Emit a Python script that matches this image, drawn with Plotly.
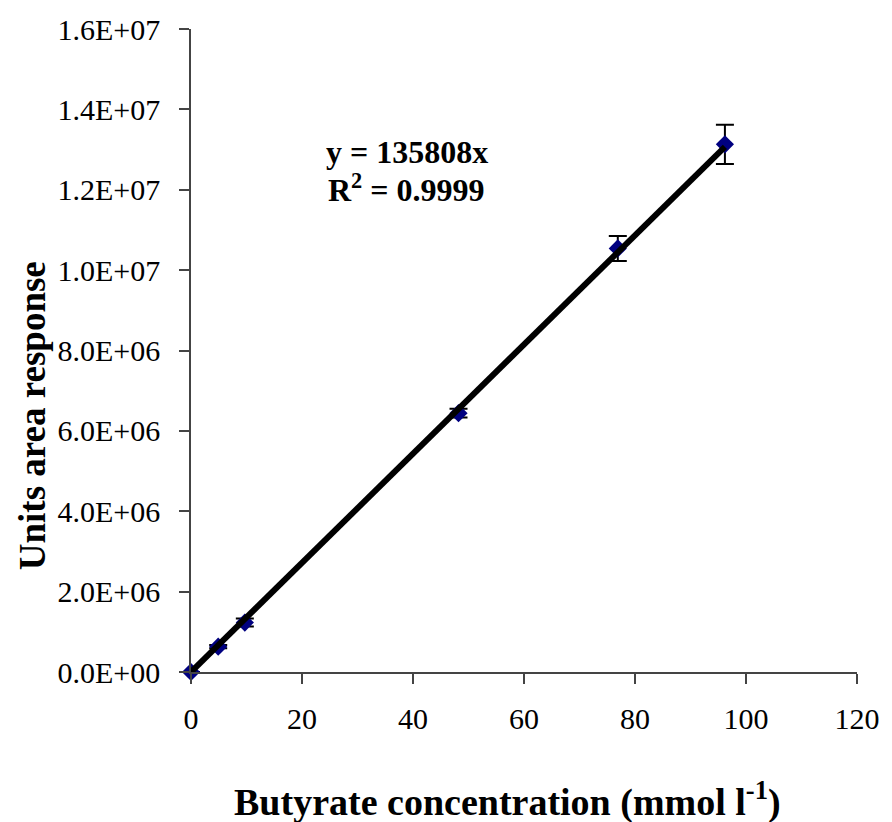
import plotly.graph_objects as go

conc = [0, 4.9, 9.7, 48.2, 76.9, 96.2]
area = [0, 0.63e6, 1.23e6, 6.44e6, 1.054e7, 1.313e7]
err = [0, 0.04e6, 0.1e6, 0.11e6, 0.31e6, 0.49e6]
slope = 135808
fit_x = [0, 96.2]
fit_y = [slope * v for v in fit_x]
y_ticks = [0, 2e6, 4e6, 6e6, 8e6, 1e7, 1.2e7, 1.4e7, 1.6e7]
y_labels = ["0.0E+00", "2.0E+06", "4.0E+06", "6.0E+06", "8.0E+06",
            "1.0E+07", "1.2E+07", "1.4E+07", "1.6E+07"]
x_ticks = [0, 20, 40, 60, 80, 100, 120]

font = "Liberation Serif, Times New Roman, serif"

fig = go.Figure()
fig.add_trace(go.Scatter(
    x=conc, y=area, mode="markers",
    marker=dict(symbol="diamond", size=14, color="#000080", line=dict(width=0)),
    error_y=dict(type="data", array=err, visible=True, color="black", thickness=2, width=9),
    showlegend=False, cliponaxis=False,
))
fig.add_trace(go.Scatter(
    x=fit_x, y=fit_y, mode="lines",
    line=dict(color="black", width=6),
    showlegend=False, cliponaxis=False,
))

fig.add_annotation(x=0.324, y=0.809, xref="paper", yref="paper",
                   xanchor="center", yanchor="middle",
                   text="<b>y = 135808x</b>", showarrow=False,
                   font=dict(family=font, size=32, color="black"))
fig.add_annotation(x=0.324, y=0.752, xref="paper", yref="paper",
                   xanchor="center", yanchor="middle",
                   text="<b>R<sup>2</sup> = 0.9999</b>", showarrow=False,
                   font=dict(family=font, size=32, color="black"))
fig.add_annotation(x=0.475, y=-0.198, xref="paper", yref="paper",
                   xanchor="center", yanchor="middle",
                   text="<b>Butyrate concentration (mmol l<sup>-1</sup>)</b>",
                   showarrow=False, font=dict(family=font, size=38, color="black"))
fig.add_annotation(x=-0.2385, y=0.398, xref="paper", yref="paper",
                   xanchor="center", yanchor="middle",
                   text="<b>Units area response</b>", textangle=-90,
                   showarrow=False, font=dict(family=font, size=37, color="black"))

fig.update_layout(
    width=892, height=822,
    margin=dict(l=191, r=26, t=27, b=150),
    paper_bgcolor="white", plot_bgcolor="white",
    font=dict(family=font, size=30, color="black"),
    xaxis=dict(
        range=[0, 120], tickvals=x_ticks, showgrid=False, zeroline=False,
        showline=True, linecolor="#444", linewidth=1.5,
        ticks="outside", ticklen=10, tickwidth=1.5, tickcolor="#444",
        tickfont=dict(family=font, size=30, color="black"),
        ticklabelstandoff=9,
    ),
    yaxis=dict(
        range=[0, 1.6e7], tickvals=y_ticks, ticktext=y_labels, showgrid=False,
        zeroline=False, showline=True, linecolor="#444", linewidth=1.5,
        ticks="outside", ticklen=10, tickwidth=1.5, tickcolor="#444",
        tickfont=dict(family=font, size=30, color="black"),
        ticklabelstandoff=13,
    ),
)

fig.write_html("out.html")
